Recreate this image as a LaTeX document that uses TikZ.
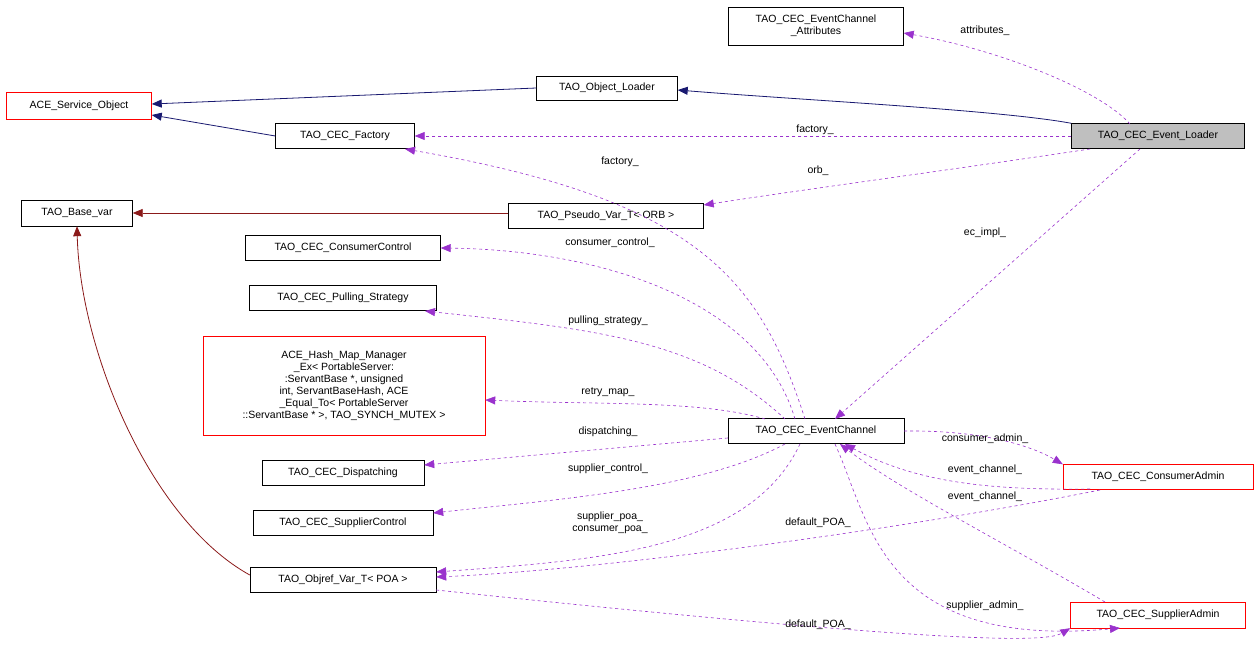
\documentclass[tikz,border=0pt]{standalone}
\usepackage{fontspec}
\setmainfont{Liberation Sans}
\usetikzlibrary{arrows.meta}
\definecolor{usecol}{HTML}{9A32CD}
\definecolor{inhblue}{HTML}{191970}
\definecolor{inhred}{HTML}{8B1A1A}
\tikzset{
  cls/.style={draw=black, fill=white, inner sep=1pt, font=\fontsize{10.5}{12}\selectfont, align=center},
  redcls/.style={cls, draw=red},
  inh/.style={-{Triangle[length=10pt,width=8pt]}, line width=0.8pt},
  use/.style={-{Triangle[length=10pt,width=8pt]}, dashed, draw=usecol, line width=0.6pt},
  lbl/.style={font=\fontsize{10.5}{12}\selectfont, align=center, text=black}
}
\begin{document}
\begin{tikzpicture}[x=1pt,y=-1pt]
\useasboundingbox (0,0) rectangle (1259,655);
% classes
\node[cls, minimum width=175pt, minimum height=38pt] (attr) at (816,26) {TAO\_CEC\_EventChannel\\\_Attributes};
\node[redcls, minimum width=145pt, minimum height=27pt] (aso) at (79,106) {ACE\_Service\_Object};
\node[cls, minimum width=141pt, minimum height=24pt] (objl) at (607,88) {TAO\_Object\_Loader};
\node[cls, minimum width=139pt, minimum height=25pt] (fact) at (345,136) {TAO\_CEC\_Factory};
\node[cls, fill=black!25, minimum width=173pt, minimum height=25pt] (evl) at (1158,136) {TAO\_CEC\_Event\_Loader};
\node[cls, minimum width=111pt, minimum height=26pt] (base) at (77,213) {TAO\_Base\_var};
\node[cls, minimum width=195pt, minimum height=25pt] (orb) at (606,216) {TAO\_Pseudo\_Var\_T\textless{} ORB \textgreater};
\node[cls, minimum width=195pt, minimum height=25pt] (cctl) at (343,248) {TAO\_CEC\_ConsumerControl};
\node[cls, minimum width=187pt, minimum height=25pt] (pull) at (343,298) {TAO\_CEC\_Pulling\_Strategy};
\node[redcls, minimum width=282pt, minimum height=99pt] (hash) at (344,386) {ACE\_Hash\_Map\_Manager\\\_Ex\textless{} PortableServer:\\:ServantBase *, unsigned\\int, ServantBaseHash, ACE\\\_Equal\_To\textless{} PortableServer\\::ServantBase * \textgreater, TAO\_SYNCH\_MUTEX \textgreater};
\node[cls, minimum width=176pt, minimum height=25pt] (ec) at (816,431) {TAO\_CEC\_EventChannel};
\node[cls, minimum width=162pt, minimum height=25pt] (disp) at (343,473) {TAO\_CEC\_Dispatching};
\node[cls, minimum width=180pt, minimum height=25pt] (sctl) at (343,523) {TAO\_CEC\_SupplierControl};
\node[redcls, minimum width=190pt, minimum height=25pt] (cadm) at (1158,477) {TAO\_CEC\_ConsumerAdmin};
\node[cls, minimum width=186pt, minimum height=25pt] (poa) at (343,580) {TAO\_Objref\_Var\_T\textless{} POA \textgreater};
\node[redcls, minimum width=175pt, minimum height=26pt] (sadm) at (1158,615) {TAO\_CEC\_SupplierAdmin};
% inheritance
\draw[inh, draw=inhblue] (objl.west) -- (aso.east |- 0,104);
\draw[inh, draw=inhblue] (fact.west) -- (aso.east |- 0,115);
\draw[inh, draw=inhblue] (evl.north west) .. controls (1000,110) and (800,100) .. (objl.east |- 0,90);
\draw[inh, draw=inhred] (orb.west |- 0,213) -- (base.east |- 0,213);
\draw[inh, draw=inhred] (poa.west |- 0,575) .. controls (150,520) and (80,350) .. (base.south);
% usage
\draw[use] (1130,124) .. controls (1100,90) and (1000,50) .. (attr.east |- 0,33);
\node[lbl] (l1) at (985,31) {attributes\_};
\draw[use] (evl.west) -- (fact.east);
\node[lbl] (l2) at (815,130) {factory\_};
\draw[use] (1090,149) .. controls (950,170) and (800,190) .. (orb.east |- 0,205);
\node[lbl] (l3) at (818,171) {orb\_};
\draw[use] (1140,149) -- (835,419);
\node[lbl] (l4) at (985,233) {ec\_impl\_};
\draw[use] (805,419) .. controls (760,280) and (700,200) .. (405,149);
\node[lbl] (l5) at (620,162) {factory\_};
\draw[use] (795,419) .. controls (760,300) and (600,250) .. (cctl.east);
\node[lbl] (l6) at (610,243) {consumer\_control\_};
\draw[use] (785,419) .. controls (700,340) and (600,330) .. (425,311);
\node[lbl] (l7) at (608,321) {pulling\_strategy\_};
\draw[use] (765,419) .. controls (700,400) and (600,405) .. (hash.east |- 0,400);
\node[lbl] (l8) at (608,392) {retry\_map\_};
\draw[use] (ec.west |- 0,438) -- (disp.east |- 0,465);
\node[lbl] (l9) at (608,432) {dispatching\_};
\draw[use] (785,444) .. controls (700,490) and (550,500) .. (sctl.east |- 0,513);
\node[lbl] (l10) at (608,469) {supplier\_control\_};
\draw[use] (800,444) .. controls (750,550) and (600,560) .. (poa.east |- 0,572);
\node[lbl] (l11) at (610,523) {supplier\_poa\_\\consumer\_poa\_};
\draw[use] (ec.east) .. controls (980,430) and (1030,445) .. (cadm.north west);
\node[lbl] (l12) at (985,439) {consumer\_admin\_};
\draw[use] (1090,489) .. controls (1000,490) and (920,485) .. (845,444);
\node[lbl] (l13) at (985,470) {event\_channel\_};
\draw[use] (1100,490) .. controls (900,530) and (600,570) .. (poa.east |- 0,577);
\node[lbl] (l14) at (818,523) {default\_POA\_};
\draw[use] (1105,602) .. controls (1000,540) and (900,490) .. (840,444);
\node[lbl] (l15) at (985,497) {event\_channel\_};
\draw[use] (poa.east |- 0,590) .. controls (1000,650) and (1050,640) .. (sadm.south west);
\node[lbl] (l16) at (818,625) {default\_POA\_};
\draw[use] (835,444) .. controls (870,520) and (880,650) .. (1120,628);
\node[lbl] (l17) at (985,606) {supplier\_admin\_};
\end{tikzpicture}
\end{document}
